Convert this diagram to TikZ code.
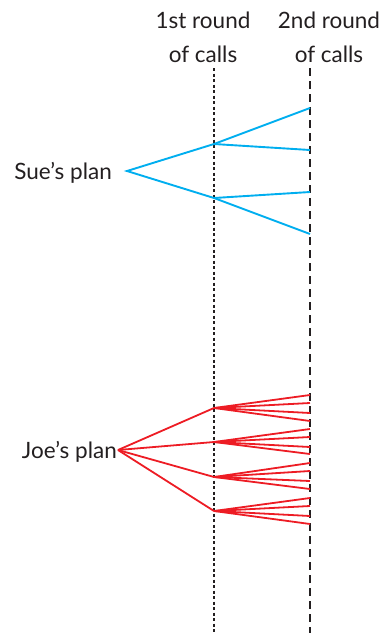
\documentclass[tikz,border=0pt]{standalone}
\usepackage{fontspec}
\setmainfont{Lato}
\definecolor{txt}{HTML}{231F20}
\definecolor{sueblue}{HTML}{00AEEF}
\definecolor{joered}{HTML}{ED1C24}
\begin{document}
\begin{tikzpicture}[x=1pt,y=-1pt,
  lbl/.style={font=\fontsize{22.5}{34}\selectfont, text=txt, inner sep=0pt},
  hdr/.style={lbl, align=center},
  sue/.style={draw=sueblue, line width=1.9pt},
  joe/.style={draw=joered, line width=1.8pt},
  roundone/.style={draw=txt, line width=1.4pt, dash pattern=on 3pt off 2.5pt},
  roundtwo/.style={draw=txt, line width=2pt, dash pattern=on 8pt off 5pt}]
\useasboundingbox (0,0) rectangle (386,633);
% header labels
\node[hdr, anchor=base] (h1) at (203,62) {1st round\\of calls};
\node[hdr, anchor=base] (h2) at (329,62) {2nd round\\of calls};
% vertical lines
\coordinate (v1t) at (214,68); \coordinate (v1b) at (214,633);
\coordinate (v2t) at (310,68); \coordinate (v2b) at (310,633);
\draw[roundone] (v1t) -- (v1b);
\draw[roundtwo] (v2t) -- (v2b);
% Sue
\node[lbl, anchor=base east] (suelbl) at (112,179) {Sue’s plan};
\coordinate (s) at (127,171);
\coordinate (s1) at (214,144);
\coordinate (s2) at (214,198);
\foreach \y [count=\i] in {108,150} {\coordinate (s1\i) at (310,\y);}
\foreach \y [count=\i] in {192,234} {\coordinate (s2\i) at (310,\y);}
\draw[sue] (s1) -- (s) -- (s2);
\foreach \i in {1,2}{\draw[sue] (s1) -- (s1\i); \draw[sue] (s2) -- (s2\i);}
% Joe
\node[lbl, anchor=base east] (joelbl) at (117,458) {Joe’s plan};
\coordinate (j) at (118,450);
\coordinate (j1) at (214,408);
\coordinate (j2) at (214,442);
\coordinate (j3) at (214,477);
\coordinate (j4) at (214,511);
\foreach \y [count=\i] in {395,403,413,421} {\coordinate (j1\i) at (310,\y);}
\foreach \y [count=\i] in {429,437,447,454} {\coordinate (j2\i) at (310,\y);}
\foreach \y [count=\i] in {463,471,481,489} {\coordinate (j3\i) at (310,\y);}
\foreach \y [count=\i] in {498,506,516,524} {\coordinate (j4\i) at (310,\y);}
\foreach \k in {1,2,3,4}{
  \draw[joe] (j) -- (j\k);
  \foreach \i in {1,2,3,4}{\draw[joe] (j\k) -- (j\k\i);}
}
\end{tikzpicture}
\end{document}
